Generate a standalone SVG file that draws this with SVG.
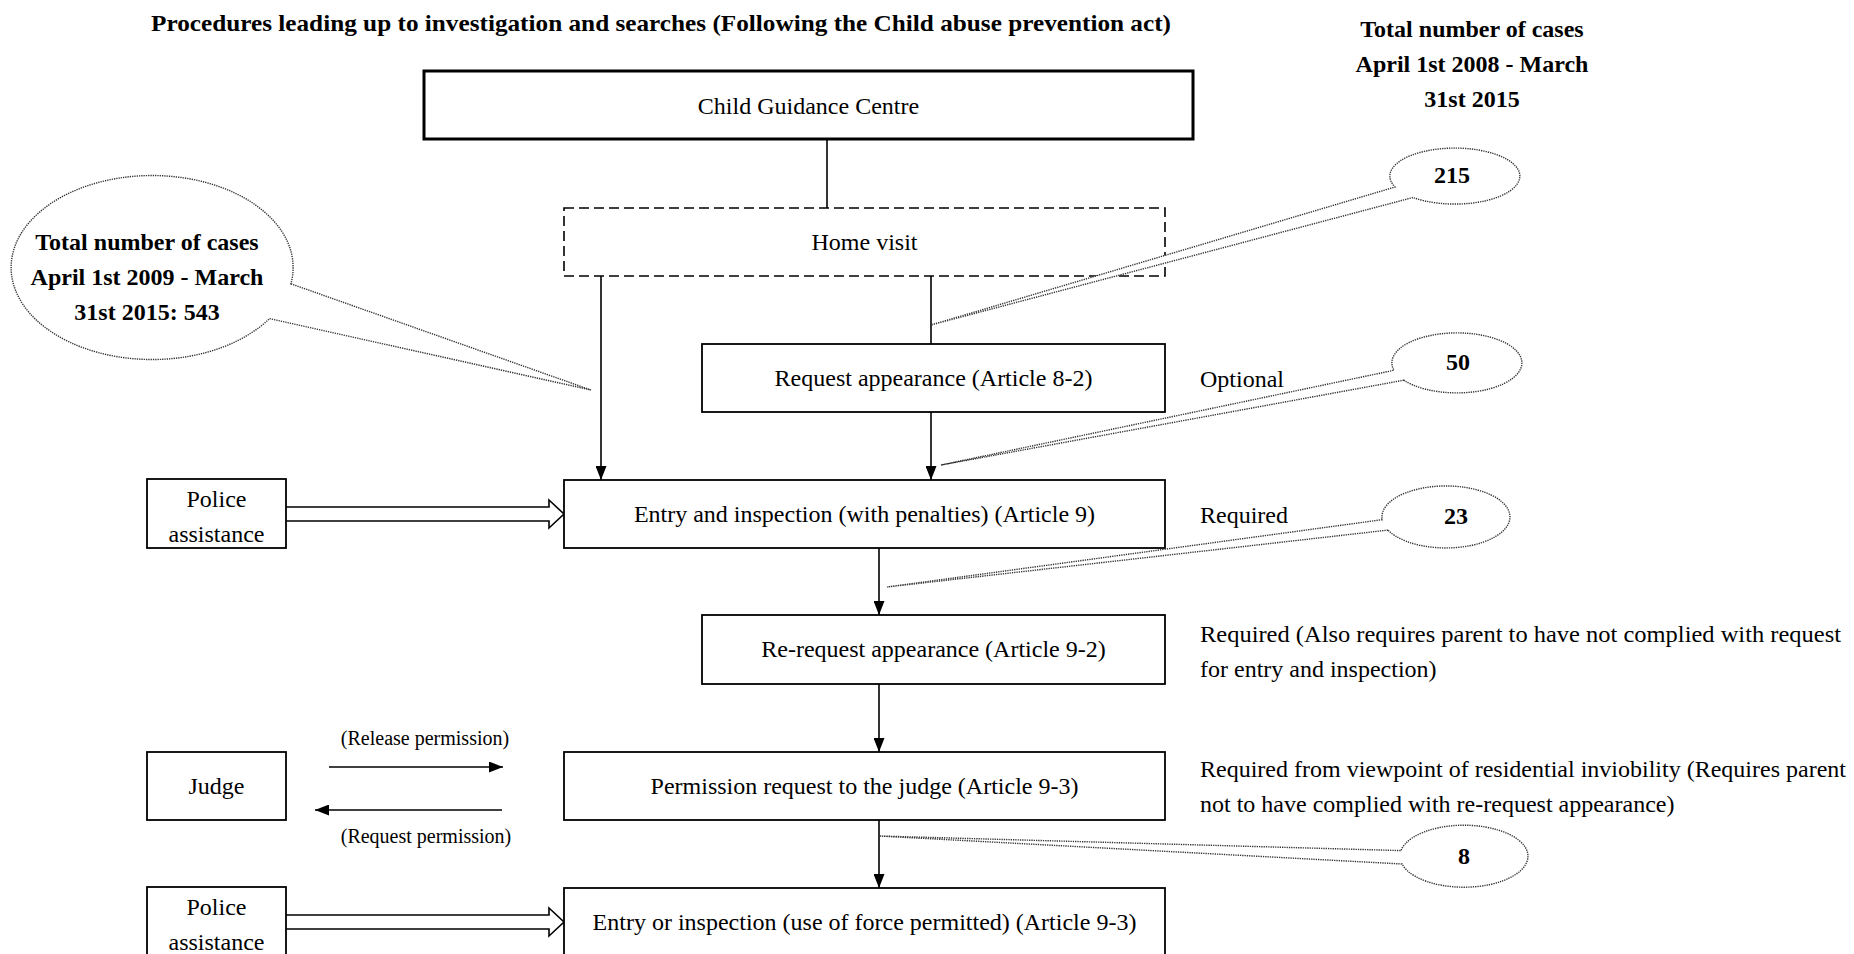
<svg xmlns="http://www.w3.org/2000/svg" width="1854" height="954" viewBox="0 0 1854 954">
  <style>
    text { font-family: "Liberation Serif", "Times New Roman", serif; fill: #000; }
    .t { font-size: 24px; }
    .b { font-size: 24px; font-weight: bold; }
    .c { text-anchor: middle; }
    .box { fill: #fff; stroke: #000; stroke-width: 1.8; }
    .thick { stroke-width: 3; }
    .dash { stroke-dasharray: 10 5; stroke-width: 1.6; }
    .ln { fill: none; stroke: #000; stroke-width: 1.6; }
    .hollow { fill: #fff; stroke: #000; stroke-width: 1.6; stroke-linejoin: miter; }
    .callout { fill: #fff; stroke: #333; stroke-width: 1.4; stroke-dasharray: 1.3 1; }
  </style>
  <defs>
    <marker id="arr" viewBox="0 0 14 11" refX="14" refY="5.5" markerWidth="14" markerHeight="11" markerUnits="userSpaceOnUse" orient="auto">
      <path d="M0,0 L14,5.5 L0,11 Z" fill="#000"/>
    </marker>
  </defs>

  <rect width="1854" height="954" fill="#fff"/>

  <g id="title">
    <text class="b c" x="661" y="31" style="font-size:23px" textLength="1020" lengthAdjust="spacingAndGlyphs">Procedures leading up to investigation and searches (Following the Child abuse prevention act)</text>
  </g>

  <g id="total-2008">
    <text class="b c" x="1472" y="37">Total number of cases</text>
    <text class="b c" x="1472" y="72">April 1st 2008 - March</text>
    <text class="b c" x="1472" y="107">31st 2015</text>
  </g>

  <g id="connectors">
    <line class="ln" x1="827" y1="139" x2="827" y2="208"/>
    <line class="ln" x1="601" y1="276" x2="601" y2="480" marker-end="url(#arr)"/>
    <line class="ln" x1="931" y1="276" x2="931" y2="344"/>
    <line class="ln" x1="931" y1="412" x2="931" y2="480" marker-end="url(#arr)"/>
    <line class="ln" x1="879" y1="548" x2="879" y2="615" marker-end="url(#arr)"/>
    <line class="ln" x1="879" y1="684" x2="879" y2="752" marker-end="url(#arr)"/>
    <line class="ln" x1="879" y1="820" x2="879" y2="888" marker-end="url(#arr)"/>
    <line class="ln" x1="329" y1="767" x2="503" y2="767" marker-end="url(#arr)"/>
    <line class="ln" x1="502" y1="810" x2="315" y2="810" marker-end="url(#arr)"/>
    <path class="hollow" d="M286,507 L549,507 L549,500 L564,514 L549,528 L549,521 L286,521"/>
    <path class="hollow" d="M286,915 L549,915 L549,908 L564,922 L549,936 L549,929 L286,929"/>
  </g>

  <g id="child-guidance-centre">
    <rect class="box thick" x="424" y="71" width="769" height="68"/>
    <text class="t c" x="808.5" y="114">Child Guidance Centre</text>
  </g>

  <g id="home-visit">
    <rect class="box dash" x="564" y="208" width="601" height="68"/>
    <text class="t c" x="864.5" y="250">Home visit</text>
  </g>

  <g id="request-appearance">
    <rect class="box" x="702" y="344" width="463" height="68"/>
    <text class="t c" x="933.5" y="386">Request appearance (Article 8-2)</text>
  </g>

  <g id="entry-inspection">
    <rect class="box" x="564" y="480" width="601" height="68"/>
    <text class="t c" x="864.5" y="522">Entry and inspection (with penalties) (Article 9)</text>
  </g>

  <g id="re-request">
    <rect class="box" x="702" y="615" width="463" height="69"/>
    <text class="t c" x="933.5" y="657">Re-request appearance (Article 9-2)</text>
  </g>

  <g id="permission-request">
    <rect class="box" x="564" y="752" width="601" height="68"/>
    <text class="t c" x="864.5" y="794">Permission request to the judge (Article 9-3)</text>
  </g>

  <g id="entry-force">
    <rect class="box" x="564" y="888" width="601" height="80"/>
    <text class="t c" x="864.5" y="930">Entry or inspection (use of force permitted) (Article 9-3)</text>
  </g>

  <g id="police-1">
    <rect class="box" x="147" y="479" width="139" height="69"/>
    <text class="t c" x="216.5" y="507">Police</text>
    <text class="t c" x="216.5" y="542">assistance</text>
  </g>

  <g id="judge">
    <rect class="box" x="147" y="752" width="139" height="68"/>
    <text class="t c" x="216.5" y="794">Judge</text>
  </g>

  <g id="police-2">
    <rect class="box" x="147" y="887" width="139" height="80"/>
    <text class="t c" x="216.5" y="915">Police</text>
    <text class="t c" x="216.5" y="950">assistance</text>
  </g>

  <g id="judge-labels">
    <text class="t c" x="425" y="745" style="font-size:20px">(Release permission)</text>
    <text class="t c" x="426" y="843" style="font-size:20px">(Request permission)</text>
  </g>

  <g id="notes">
    <text class="t" x="1200" y="387">Optional</text>
    <text class="t" x="1200" y="523">Required</text>
    <text class="t" x="1200" y="642" textLength="641" lengthAdjust="spacingAndGlyphs">Required (Also requires parent to have not complied with request</text>
    <text class="t" x="1200" y="677">for entry and inspection)</text>
    <text class="t" x="1200" y="777" textLength="646" lengthAdjust="spacingAndGlyphs">Required from viewpoint of residential inviobility (Requires parent</text>
    <text class="t" x="1200" y="812">not to have complied with re-request appearance)</text>
  </g>

  <g id="callout-543">
    <path class="callout" d="M290.9,283.8 L591,390 L269.4,318.6 A141 92 0 1 1 290.9,283.8 Z"/>
    <text class="b c" x="147" y="250">Total number of cases</text>
    <text class="b c" x="147" y="285">April 1st 2009 - March</text>
    <text class="b c" x="147" y="320">31st 2015: 543</text>
  </g>

  <g id="callout-215">
    <path class="callout" d="M1413,197.5 L931,325 L1395,187 A65 28 0 1 1 1413,197.5 Z"/>
    <text class="b c" x="1452" y="183">215</text>
  </g>

  <g id="callout-50">
    <path class="callout" d="M1403.8,380.2 L941,465 L1393.9,370.3 A65 30 0 1 1 1403.8,380.2 Z"/>
    <text class="b c" x="1458" y="370">50</text>
  </g>

  <g id="callout-23">
    <path class="callout" d="M1388,530.1 L887,587 L1382.2,519.7 A64 31 0 1 1 1388,530.1 Z"/>
    <text class="b c" x="1456" y="524">23</text>
  </g>

  <g id="callout-8">
    <path class="callout" d="M1402,864 L879,836 L1401,850.6 A64 31 0 1 1 1402,864 Z"/>
    <text class="b c" x="1464" y="864">8</text>
  </g>
</svg>
